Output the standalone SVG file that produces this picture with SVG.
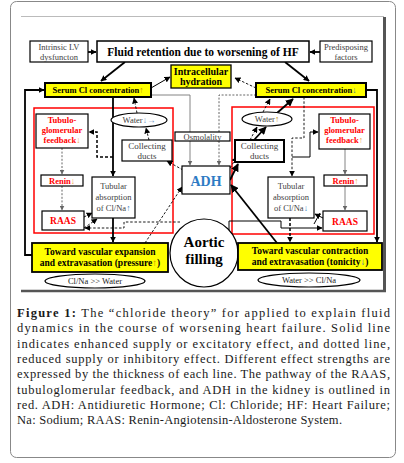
<svg xmlns="http://www.w3.org/2000/svg" width="404" height="463" viewBox="0 0 404 463" font-family="'Liberation Serif', serif">
<style>
text{font-family:'Liberation Serif',serif;}
.bx{fill:#fff;stroke:#000;stroke-width:1.2;}
.bxk{fill:#fff;stroke:#000;stroke-width:2;}
.yl{fill:#ffff00;stroke:#000;stroke-width:1.8;}
.rd{fill:none;stroke:#ff0000;stroke-width:1.5;}
.el{fill:#fff;stroke:#000;stroke-width:1.2;}
.t{font-size:8.5px;fill:#404040;text-anchor:middle;}
.tb{font-size:9.5px;font-weight:bold;fill:#000;text-anchor:middle;}
.tr{font-size:8.5px;font-weight:bold;fill:#ff0000;text-anchor:middle;}
.s{fill:none;stroke:#000;stroke-width:1;}
.s2{fill:none;stroke:#000;stroke-width:1.8;}
.d{fill:none;stroke:#000;stroke-width:0.9;stroke-dasharray:2.5,1.8;}
.d2{fill:none;stroke:#000;stroke-width:1.5;stroke-dasharray:3,2;}
.g{fill:none;stroke:#777;stroke-width:0.9;}
.gd{fill:none;stroke:#555;stroke-width:0.9;stroke-dasharray:2,1.6;}
.cap{font-size:12.5px;fill:#1a1a1a;}
</style>
<defs>
<marker id="a" viewBox="0 0 10 10" refX="9" refY="5" markerWidth="6" markerHeight="6" markerUnits="userSpaceOnUse" orient="auto"><path d="M0,0L10,5L0,10z" fill="#000"/></marker>
<marker id="ag" viewBox="0 0 10 10" refX="9" refY="5" markerWidth="5" markerHeight="5" markerUnits="userSpaceOnUse" orient="auto"><path d="M0,0L10,5L0,10z" fill="#666"/></marker>
<marker id="ab" viewBox="0 0 10 10" refX="9" refY="5" markerWidth="8" markerHeight="8" markerUnits="userSpaceOnUse" orient="auto"><path d="M0,0L10,5L0,10z" fill="#000"/></marker>
</defs>
<rect width="404" height="463" fill="#fff"/>
<rect x="10.5" y="1.5" width="385" height="456" rx="6" fill="none" stroke="#888" stroke-width="1"/>
<line x1="21" y1="16.5" x2="384" y2="16.5" stroke="#bbb" stroke-width="1"/>
<line x1="384.5" y1="17" x2="384.5" y2="292" stroke="#555" stroke-width="3"/>
<line x1="21" y1="291" x2="386" y2="291" stroke="#555" stroke-width="2.5"/>

<g id="red-boxes">
<rect class="rd" x="34" y="108" width="139" height="125"/>
<rect class="rd" x="232" y="107" width="142" height="127"/>
</g>

<g id="connectors">
<path class="s2" d="M125,62L101,81" marker-end="url(#a)"/>
<path class="s2" d="M285,62L309,81" marker-end="url(#a)"/>
<path class="s2" d="M88,52H96" marker-end="url(#a)"/>
<path class="s2" d="M320,52H310" marker-end="url(#a)"/>
<path class="s" d="M151,88L170,77" marker-end="url(#a)"/>
<path class="d" d="M256,88L235,78" marker-end="url(#a)"/>
<path class="s2" d="M32,255H25V90H44" marker-end="url(#a)"/>
<path class="s2" d="M366,90H377V242" marker-end="url(#a)"/>
<path class="s2" d="M113,97V176" marker-end="url(#a)"/>
<path class="g" d="M151,95H190V132M190,141V165" marker-end="url(#ag)"/>
<path class="gd" d="M256,95H219V132M219,141V165" marker-end="url(#ag)"/>
<path class="d" d="M137,113L134,98" marker-end="url(#a)"/>
<path class="d" d="M149,140L146,128" marker-end="url(#a)"/>
<path class="d" d="M183,170L167,161" marker-end="url(#a)"/>
<path class="d2" d="M113,157H97V132H89" marker-end="url(#a)"/>
<path class="gd" d="M62,148V174" marker-end="url(#ag)"/>
<path class="gd" d="M62,186V210" marker-end="url(#ag)"/>
<path class="d" d="M84,217L92,213" marker-end="url(#a)"/>
<path class="d" d="M84,228L97,219" marker-end="url(#a)"/>
<path class="d" d="M180,222H124V228H85" marker-end="url(#a)"/>
<path class="s2" d="M113,218V242" marker-end="url(#a)"/>
<path class="d" d="M145,243L182,187" marker-end="url(#a)"/>
<path class="d" d="M304,97V138H292V176" marker-end="url(#a)"/>
<path class="s" d="M292,157H310V132H318" marker-end="url(#a)"/>
<path class="g" d="M345,149V174" marker-end="url(#ag)"/>
<path class="g" d="M345,186V210" marker-end="url(#ag)"/>
<path class="s" d="M323,218L315,214" marker-end="url(#a)"/>
<path class="s" d="M314,224L320,213"/>
<path class="s" d="M229,231V221H281V228H322" marker-end="url(#a)"/>
<path class="d2" d="M290,218V242" marker-end="url(#a)"/>
<path class="s2" d="M277,243L231,185" marker-end="url(#ab)"/>
<path class="s2" d="M230,180L238,164" marker-end="url(#ab)"/>
<path class="d" d="M230,168L237,157" marker-end="url(#a)"/>
<path class="s2" d="M254,140L266,127" marker-end="url(#ab)"/>
<path class="d" d="M250,140L257,127" marker-end="url(#a)"/>
<path class="s2" d="M277,113L293,99" marker-end="url(#ab)"/>
<path class="d" d="M263,112L270,99" marker-end="url(#a)"/>
</g>

<g id="intrinsic">
<rect class="bx" x="30" y="41" width="58" height="21"/>
<text class="t" x="59" y="50" style="font-size:8.5px">Intrinsic LV</text>
<text class="t" x="59" y="60" style="font-size:8.5px">dysfuncton</text>
</g>
<g id="fluid">
<rect class="bxk" x="97" y="41" width="212" height="21" style="stroke-width:1.5"/>
<text x="203" y="56" style="font-size:11.5px;font-weight:bold;text-anchor:middle">Fluid retention due to worsening of HF</text>
</g>
<g id="predisposing">
<rect class="bx" x="320" y="41" width="52" height="21"/>
<text class="t" x="346" y="50" style="font-size:8.5px">Predisposing</text>
<text class="t" x="346" y="60" style="font-size:8.5px">factors</text>
</g>
<g id="intracellular">
<rect class="yl" x="171" y="65" width="60" height="23" style="stroke-width:1.3"/>
<text class="tb" x="201" y="75" style="font-size:10px">Intracellular</text>
<text class="tb" x="201" y="85" style="font-size:10px">hydration</text>
</g>
<g id="serum-left">
<rect class="yl" x="45" y="83" width="106" height="14" style="stroke-width:2"/>
<text class="tb" x="98" y="93" style="font-size:8.5px">Serum Cl concentration<tspan fill="#c08a00">↑</tspan></text>
</g>
<g id="serum-right">
<rect class="yl" x="256" y="83" width="110" height="14" style="stroke-width:2"/>
<text class="tb" x="311" y="93" style="font-size:8.5px">Serum Cl concentration<tspan fill="#1f6fb5">↓</tspan></text>
</g>

<g id="tgf-left">
<rect class="bx" x="36" y="114" width="52" height="34"/>
<text class="tr" x="62" y="123">Tubulo-</text>
<text class="tr" x="62" y="133">glomerular</text>
<text class="tr" x="62" y="143">feedback<tspan fill="#f0a040">↓</tspan></text>
</g>
<g id="water-left">
<ellipse class="el" cx="139" cy="120" rx="28" ry="7"/>
<text class="t" x="139" y="123" style="font-size:8.5px">Water<tspan fill="#6a8fc0">↓→</tspan></text>
</g>
<g id="cd-left">
<rect class="bx" x="122" y="140" width="50" height="21"/>
<text class="t" x="147" y="149" style="font-size:9px">Collecting</text>
<text class="t" x="147" y="159" style="font-size:9px">ducts</text>
</g>
<g id="renin-left">
<rect class="bx" x="41" y="175" width="42" height="11"/>
<text class="tr" x="62" y="184" style="font-size:8.5px">Renin<tspan fill="#f0a040">↓</tspan></text>
</g>
<g id="tub-left">
<rect class="bx" x="92" y="177" width="43" height="41"/>
<text class="t" x="113.5" y="189">Tubular</text>
<text class="t" x="113.5" y="200">absorption</text>
<text class="t" x="113.5" y="211">of Cl/Na<tspan fill="#3a7cc0">↑</tspan></text>
</g>
<g id="raas-left">
<rect class="bx" x="42" y="211" width="42" height="19"/>
<text class="tr" x="63" y="224" style="font-size:9.5px">RAAS</text>
</g>

<g id="osmolality">
<rect class="bx" x="175" y="132" width="55" height="9"/>
<text class="t" x="202.5" y="139.5" style="font-size:8.5px">Osmolality</text>
</g>
<g id="adh">
<rect class="bx" x="182" y="166" width="48" height="28"/>
<text x="206" y="185.5" style="font-size:14px;font-weight:bold;fill:#2e7bc4;text-anchor:middle">ADH</text>
</g>
<g id="aortic">
<ellipse cx="204" cy="253" rx="34" ry="34" fill="#fff" stroke="#000" stroke-width="1.2"/>
<text x="204" y="247" style="font-size:15px;font-weight:bold;text-anchor:middle">Aortic</text>
<text x="204" y="264" style="font-size:15px;font-weight:bold;text-anchor:middle">filling</text>
</g>

<g id="water-right">
<ellipse class="el" cx="267" cy="119" rx="25" ry="7"/>
<text class="t" x="267" y="122" style="font-size:8.5px">Water<tspan fill="#c08a00">↑</tspan></text>
</g>
<g id="cd-right">
<rect class="bxk" x="235" y="140" width="49" height="22"/>
<text class="t" x="259.5" y="149" style="font-size:9px">Collecting</text>
<text class="t" x="259.5" y="159" style="font-size:9px">ducts</text>
</g>
<g id="tgf-right">
<rect class="bx" x="319" y="114" width="51" height="35"/>
<text class="tr" x="344.5" y="123">Tubulo-</text>
<text class="tr" x="344.5" y="133">glomerular</text>
<text class="tr" x="344.5" y="143">feedback<tspan fill="#f0a040">↑</tspan></text>
</g>
<g id="renin-right">
<rect class="bx" x="324" y="175" width="43" height="11"/>
<text class="tr" x="345.5" y="184" style="font-size:8.5px">Renin<tspan fill="#f0a040">↑</tspan></text>
</g>
<g id="tub-right">
<rect class="bx" x="268" y="177" width="46" height="41"/>
<text class="t" x="291" y="189">Tubular</text>
<text class="t" x="291" y="200">absorption</text>
<text class="t" x="291" y="211">of Cl/Na<tspan fill="#3a7cc0">↓</tspan></text>
</g>
<g id="raas-right">
<rect class="bx" x="323" y="211" width="44" height="20"/>
<text class="tr" x="345" y="224.5" style="font-size:9.5px">RAAS</text>
</g>

<g id="expansion">
<rect class="yl" x="32" y="243" width="136" height="29"/>
<text class="tb" x="100" y="255" style="font-size:9.5px">Toward vascular expansion</text>
<text class="tb" x="100" y="266" style="font-size:9.5px">and extravasation (pressure<tspan fill="#c08a00">↑</tspan>)</text>
</g>
<g id="clna-water">
<ellipse class="el" cx="95" cy="281" rx="50" ry="7"/>
<text class="t" x="95" y="284" style="font-size:8.5px;fill:#222">Cl/Na &gt;&gt; Water</text>
</g>
<g id="contraction">
<rect class="yl" x="238" y="243" width="144" height="27"/>
<text class="tb" x="310" y="254" style="font-size:9.5px">Toward vascular contraction</text>
<text class="tb" x="310" y="265" style="font-size:9.5px">and extravasation (tonicity<tspan fill="#1f6fb5">↓</tspan>)</text>
</g>
<g id="water-clna">
<ellipse class="el" cx="309" cy="280" rx="51" ry="7"/>
<text class="t" x="309" y="283" style="font-size:8.5px;fill:#222">Water &gt;&gt; Cl/Na</text>
</g>

<g id="caption">
<text class="cap" x="17" y="317" textLength="373" lengthAdjust="spacing"><tspan font-weight="bold">Figure 1:</tspan> The “chloride theory” for applied to explain fluid</text>
<text class="cap" x="17" y="332.3" textLength="373" lengthAdjust="spacing">dynamics in the course of worsening heart failure. Solid line</text>
<text class="cap" x="17" y="347.6" textLength="373" lengthAdjust="spacing">indicates enhanced supply or excitatory effect, and dotted line,</text>
<text class="cap" x="17" y="362.9" textLength="373" lengthAdjust="spacing">reduced supply or inhibitory effect. Different effect strengths are</text>
<text class="cap" x="17" y="378.2" textLength="373" lengthAdjust="spacing">expressed by the thickness of each line. The pathway of the RAAS,</text>
<text class="cap" x="17" y="393.5" textLength="373" lengthAdjust="spacing">tubuloglomerular feedback, and ADH in the kidney is outlined in</text>
<text class="cap" x="17" y="408.8" textLength="373" lengthAdjust="spacing">red. ADH: Antidiuretic Hormone; Cl: Chloride; HF: Heart Failure;</text>
<text class="cap" x="17" y="424.1" textLength="325" lengthAdjust="spacing">Na: Sodium; RAAS: Renin-Angiotensin-Aldosterone System.</text>
</g>
</svg>
